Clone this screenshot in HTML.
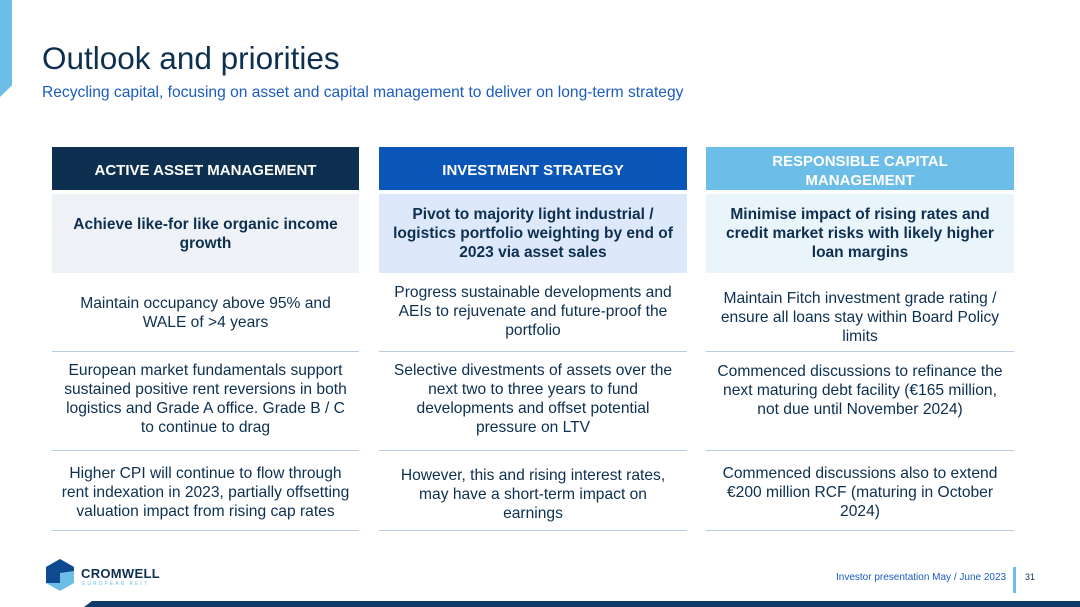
<!DOCTYPE html>
<html><head><meta charset="utf-8"><style>
body{margin:0;width:1080px;height:607px;position:relative;overflow:hidden;background:#fff;font-family:"Liberation Sans",Arial,sans-serif;color:#0d2f50}
.a{position:absolute}
.cell{position:absolute;display:flex;align-items:center;justify-content:center;text-align:center;box-sizing:border-box;padding:0 10px;font-size:15.6px;line-height:19px}
.hd{color:#fff;font-weight:bold;font-size:15px;line-height:19px;padding-top:4px}
.b{font-weight:bold;font-size:15.5px;padding:0 8px}
.ln{position:absolute;height:1px;background:#b7cde6}
</style></head><body>
<div class="a" style="left:0;top:0;width:12px;height:97px;background:#6cbde8;clip-path:polygon(0 0,100% 0,100% 88%,0 100%)"></div>
<div class="a" style="left:42px;top:40px;font-size:31.5px;color:#0d2f50">Outlook and priorities</div>
<div class="a" style="left:42px;top:84px;font-size:15.6px;color:#1a5cc4">Recycling capital, focusing on asset and capital management to deliver on long-term strategy</div>

<div class="cell hd" style="left:52px;top:147px;width:307px;height:43px;background:#0d2f50">ACTIVE ASSET MANAGEMENT</div>
<div class="cell hd" style="left:379px;top:147px;width:308px;height:43px;background:#0a56b8">INVESTMENT STRATEGY</div>
<div class="cell hd" style="left:706px;top:147px;width:308px;height:43px;background:#6cbde8">RESPONSIBLE CAPITAL<br>MANAGEMENT</div>

<div class="cell b" style="left:52px;top:194px;width:307px;height:79px;background:#eef2f7">Achieve like-for like organic income growth</div>
<div class="cell b" style="left:379px;top:194px;width:308px;height:79px;background:#dde9fb">Pivot to majority light industrial / logistics portfolio weighting by end of 2023 via asset sales</div>
<div class="cell b" style="left:706px;top:194px;width:308px;height:79px;background:#eaf4fb">Minimise impact of rising rates and credit market risks with likely higher loan margins</div>

<div class="cell" style="left:52px;top:275px;width:307px;height:76px">Maintain occupancy above 95% and WALE of &gt;4 years</div>
<div class="cell" style="left:379px;top:273px;width:308px;height:76px">Progress sustainable developments and AEIs to rejuvenate and future-proof the portfolio</div>
<div class="cell" style="left:706px;top:279px;width:308px;height:76px">Maintain Fitch investment grade rating / ensure all loans stay within Board Policy limits</div>
<div class="ln" style="left:52px;top:351px;width:307px"></div>
<div class="ln" style="left:379px;top:351px;width:308px"></div>
<div class="ln" style="left:706px;top:351px;width:308px"></div>

<div class="cell" style="left:52px;top:353px;width:307px;height:92px">European market fundamentals support sustained positive rent reversions in both logistics and Grade A office. Grade B / C to continue to drag</div>
<div class="cell" style="left:379px;top:353px;width:308px;height:92px">Selective divestments of assets over the next two to three years to fund developments and offset potential pressure on LTV</div>
<div class="cell" style="left:706px;top:353px;width:308px;height:74px">Commenced discussions to refinance the next maturing debt facility (€165 million, not due until November 2024)</div>
<div class="ln" style="left:52px;top:450px;width:307px"></div>
<div class="ln" style="left:379px;top:450px;width:308px"></div>
<div class="ln" style="left:706px;top:450px;width:308px"></div>

<div class="cell" style="left:52px;top:452px;width:307px;height:80px;padding:0 2px">Higher CPI will continue to flow through rent indexation in 2023, partially offsetting valuation impact from rising cap rates</div>
<div class="cell" style="left:379px;top:456px;width:308px;height:76px">However, this and rising interest rates, may have a short-term impact on earnings</div>
<div class="cell" style="left:706px;top:452px;width:308px;height:80px">Commenced discussions also to extend €200 million RCF (maturing in October 2024)</div>
<div class="ln" style="left:52px;top:530px;width:307px"></div>
<div class="ln" style="left:379px;top:530px;width:308px"></div>
<div class="ln" style="left:706px;top:530px;width:308px"></div>

<svg class="a" style="left:46px;top:559px" width="28" height="32" viewBox="0 0 28 32">
<polygon points="14,0 28,8 28,24 14,32 0,24 0,8" fill="#6cbde8"/>
<polygon points="14,0 28,8 28,12 14,14 14,24 0,24 0,8" fill="#0d4a8f"/>
</svg>
<div class="a" style="left:81px;top:566px;font-size:13px;font-weight:bold;color:#0d2f50;letter-spacing:0.3px">CROMWELL</div>
<div class="a" style="left:82px;top:581px;font-size:5px;color:#6cbde8;letter-spacing:2px">EUROPEAN REIT</div>

<div class="a" style="left:836px;top:572px;font-size:10px;color:#1a5cc4">Investor presentation May / June 2023</div>
<div class="a" style="left:1013px;top:567px;width:3px;height:26px;background:#6cbde8"></div>
<div class="a" style="left:1025px;top:572px;font-size:9px;color:#0d2f50">31</div>
<div class="a" style="left:84px;top:601px;width:996px;height:6px;background:#0d3a66;clip-path:polygon(8px 0,100% 0,100% 100%,0 100%)"></div>
</body></html>
